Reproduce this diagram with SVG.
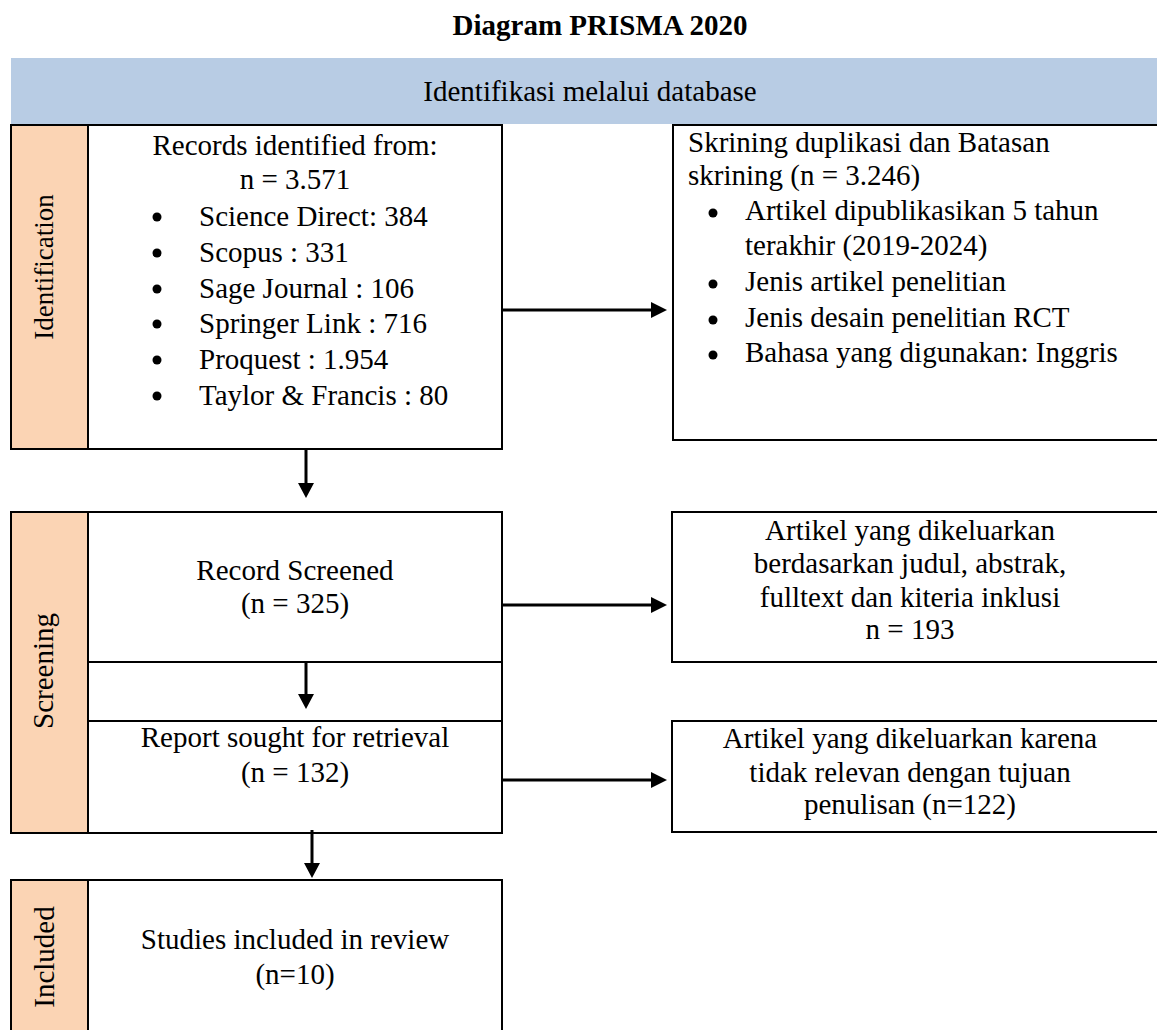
<svg xmlns="http://www.w3.org/2000/svg" width="1157" height="1030" viewBox="0 0 1157 1030">
<defs>
<style>
text{font-family:"Liberation Serif","Times New Roman",serif;font-size:29px;fill:#000}
.c{text-anchor:middle}
.t{font-weight:bold}
.box{fill:#fff;stroke:#000;stroke-width:2}
.side{fill:#FBD4B4;stroke:#000;stroke-width:2}
.vl{text-anchor:middle}
.conn line{stroke:#000;stroke-width:3}
.conn path{fill:#000;stroke:none}
</style>
</defs>
<rect width="1157" height="1030" fill="#fff"/>
<text class="c t" x="600" y="35">Diagram PRISMA 2020</text>

<g id="header">
<rect x="11" y="58" width="1150" height="66" fill="#B8CCE4"/>
<text class="c" x="590" y="101">Identifikasi melalui database</text>
</g>

<g id="stage-identification">
<rect class="side" x="11" y="125" width="77" height="324"/>
<text class="vl" style="font-size:27px" transform="translate(53 267) rotate(-90)">Identification</text>
</g>

<g id="records-identified">
<rect class="box" x="88" y="125" width="414" height="324"/>
<text class="c" x="295" y="155">Records identified from:</text>
<text class="c" x="295" y="189">n = 3.571</text>
<g>
<circle cx="157" cy="217" r="4.5"/><text x="199" y="226">Science Direct: 384</text>
<circle cx="157" cy="253" r="4.5"/><text x="199" y="262">Scopus : 331</text>
<circle cx="157" cy="289" r="4.5"/><text x="199" y="298">Sage Journal : 106</text>
<circle cx="157" cy="324" r="4.5"/><text x="199" y="333">Springer Link : 716</text>
<circle cx="157" cy="360" r="4.5"/><text x="199" y="369">Proquest : 1.954</text>
<circle cx="157" cy="396" r="4.5"/><text x="199" y="405">Taylor &amp; Francis : 80</text>
</g>
</g>

<g id="screening-duplicates">
<rect class="box" x="673" y="125" width="490" height="315"/>
<text x="688" y="152">Skrining duplikasi dan Batasan</text>
<text x="688" y="185">skrining (n = 3.246)</text>
<circle cx="713" cy="213" r="4.5"/><text x="745" y="220">Artikel dipublikasikan 5 tahun</text>
<text x="745" y="255">terakhir (2019-2024)</text>
<circle cx="713" cy="284" r="4.5"/><text x="745" y="291">Jenis artikel penelitian</text>
<circle cx="713" cy="320" r="4.5"/><text x="745" y="327">Jenis desain penelitian RCT</text>
<circle cx="713" cy="355" r="4.5"/><text x="745" y="362">Bahasa yang digunakan: Inggris</text>
</g>

<g id="stage-screening">
<rect class="side" x="11" y="512" width="77" height="321"/>
<text class="vl" transform="translate(53 671) rotate(-90)">Screening</text>
</g>

<g id="record-screened">
<rect class="box" x="88" y="512" width="414" height="321"/>
<line x1="88" y1="662" x2="502" y2="662" stroke="#000" stroke-width="2"/>
<text class="c" x="295" y="580">Record Screened</text>
<text class="c" x="295" y="613">(n = 325)</text>
</g>

<g id="report-sought">
<line x1="88" y1="721" x2="502" y2="721" stroke="#000" stroke-width="2"/>
<text class="c" x="295" y="747">Report sought for retrieval</text>
<text class="c" x="295" y="782">(n = 132)</text>
</g>

<g id="excluded-title">
<rect class="box" x="672" y="512" width="490" height="150"/>
<text class="c" x="910" y="540">Artikel yang dikeluarkan</text>
<text class="c" x="910" y="573">berdasarkan judul, abstrak,</text>
<text class="c" x="910" y="607">fulltext dan kiteria inklusi</text>
<text class="c" x="910" y="639">n = 193</text>
</g>

<g id="excluded-relevance">
<rect class="box" x="672" y="721" width="490" height="111"/>
<text class="c" x="910" y="748">Artikel yang dikeluarkan karena</text>
<text class="c" x="910" y="782">tidak relevan dengan tujuan</text>
<text class="c" x="910" y="814">penulisan (n=122)</text>
</g>

<g id="stage-included">
<rect class="side" x="11" y="880" width="77" height="160"/>
<text class="vl" transform="translate(54 957) rotate(-90)">Included</text>
</g>

<g id="studies-included">
<rect class="box" x="88" y="880" width="414" height="160"/>
<text class="c" x="295" y="949">Studies included in review</text>
<text class="c" x="295" y="984">(n=10)</text>
</g>

<g id="connectors" class="conn">
<line x1="502" y1="310" x2="653" y2="310"/><path d="M667 310 L651 302 L651 318 Z"/>
<line x1="502" y1="605" x2="653" y2="605"/><path d="M667 605 L651 597 L651 613 Z"/>
<line x1="502" y1="780" x2="653" y2="780"/><path d="M667 780 L651 772 L651 788 Z"/>
<line x1="306" y1="450" x2="306" y2="485"/><path d="M306 498 L298 483 L314 483 Z"/>
<line x1="306" y1="663" x2="306" y2="696"/><path d="M306 709 L298 694 L314 694 Z"/>
<line x1="312" y1="830" x2="312" y2="865"/><path d="M312 878 L304 863 L320 863 Z"/>
</g>
</svg>
